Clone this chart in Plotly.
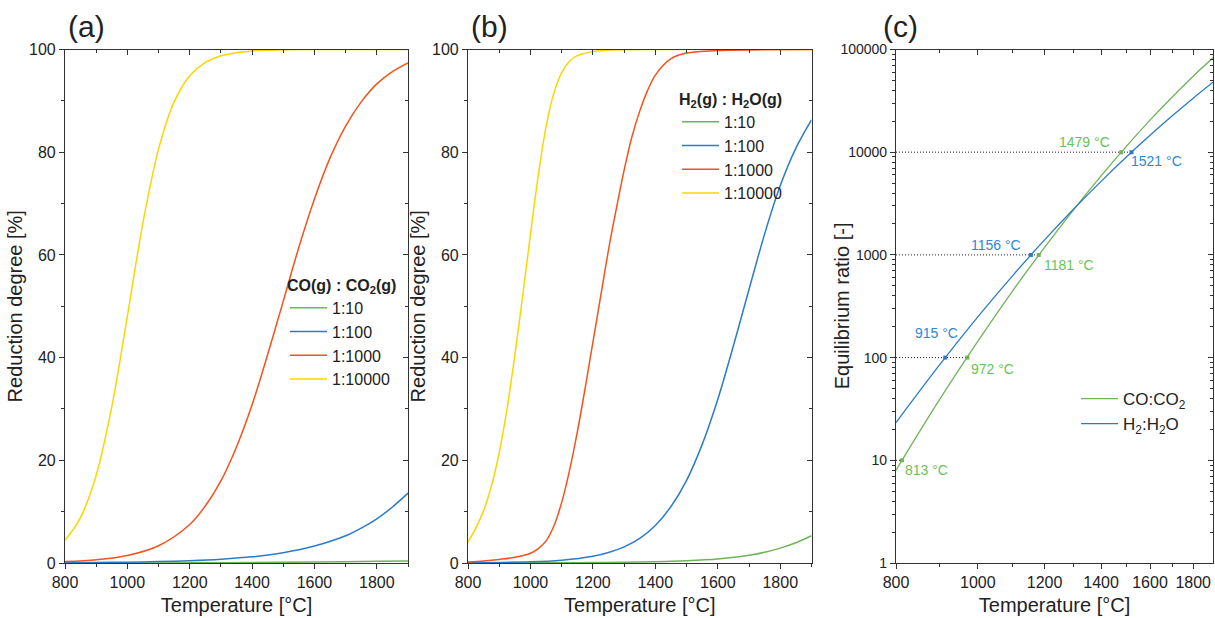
import numpy as np
import plotly.graph_objects as go

# ---------------- data ----------------
# Panel (a): CO(g) : CO2(g) -- reduction degree [%]
a_green_T = [800, 1000, 1200, 1400, 1600, 1700, 1800, 1900]
a_green = [0, 0.01, 0.04, 0.09, 0.18, 0.24, 0.32, 0.41]
a_blue_T = [800, 900, 1000, 1100, 1200, 1300, 1400, 1500, 1600, 1700, 1750, 1800, 1850, 1900]
a_blue = [0.06, 0.1, 0.17, 0.27, 0.45, 0.74, 1.2, 2.0, 3.3, 5.3, 6.8, 8.6, 10.9, 13.6]
a_orange_T = [800, 900, 1000, 1100, 1200, 1250, 1300, 1350, 1400, 1450, 1500, 1550,
              1600, 1650, 1700, 1750, 1800, 1850, 1900]
a_orange = [0.27, 0.63, 1.46, 3.36, 7.5, 11.1, 16, 22.6, 30.8, 40.6, 51, 61.5,
            70.9, 78.9, 85.1, 89.8, 93.3, 95.7, 97.4]
a_yellow_T = [800, 850, 900, 950, 1000, 1050, 1100, 1150, 1200, 1250, 1300, 1400, 1500, 1600, 1900]
a_yellow = [4.4, 8.9, 17.1, 30.4, 48.1, 66.3, 80.6, 89.8, 94.9, 97.5, 98.8, 99.73, 99.94, 99.99, 100]

# Panel (b): H2(g) : H2O(g) -- reduction degree [%]
b_green_T = [800, 900, 1000, 1100, 1200, 1300, 1400, 1500, 1600, 1700, 1750, 1800, 1850, 1900]
b_green = [0.008, 0.014, 0.025, 0.045, 0.08, 0.14, 0.25, 0.45, 0.8, 1.5, 2.1, 2.9, 3.95, 5.3]
b_blue_T = [800, 1000, 1100, 1200, 1250, 1300, 1350, 1400, 1450, 1500, 1550, 1600, 1650,
            1700, 1750, 1800, 1850, 1900]
b_blue = [0.04, 0.22, 0.54, 1.31, 2.04, 3.14, 4.8, 7.3, 11.0, 16.1, 23.1, 31.9, 42.3,
          53.3, 64.1, 73.5, 80.8, 86.3]
b_orange_T = [800, 850, 900, 950, 1000, 1025, 1050, 1075, 1100, 1125, 1150, 1175, 1200,
              1225, 1250, 1275, 1300, 1325, 1350, 1375, 1400, 1450, 1500, 1600, 1900]
b_orange = [0.2, 0.4, 0.7, 1.1, 1.9, 2.8, 4.3, 7.2, 11.8, 18, 25.5, 34, 43,
            52, 61, 69, 76.5, 83, 88, 92, 95, 98.2, 99.3, 99.8, 100]
b_yellow_T = [800, 825, 850, 875, 900, 925, 950, 975, 1000, 1025, 1050, 1075, 1100,
              1125, 1150, 1200, 1300, 1900]
b_yellow = [4.1, 6.8, 10.2, 15, 21.5, 30, 40.5, 52, 64, 75.5, 85, 91.5, 95.5,
            97.7, 98.8, 99.6, 99.95, 100]

ratio_labels = ["1:10", "1:100", "1:1000", "1:10000"]

# Panel (c): equilibrium ratio [-]
c_T = [800, 900, 1000, 1100, 1200, 1300, 1400, 1500, 1600, 1700, 1800, 1900]
c_co = [8.0, 38.5, 144, 447, 1184, 2776, 5873, 11400, 20500, 34500, 55000, 83000]
c_h2 = [23.3, 84, 249, 629, 1399, 2814, 5203, 8980, 14600, 22600, 33600, 48000]

# marked points (temperature where ratio reaches a decade)
co_pts_T = [813, 972, 1181, 1479]
co_pts_R = [10, 100, 1000, 10000]
h2_pts_T = [915, 1156, 1521]
h2_pts_R = [100, 1000, 10000]
# dotted guide lines: ratio level -> temperature reached
guide_R = [10, 100, 1000, 10000]
guide_T = [813, 972, 1181, 1521]

# ---------------- style ----------------
GREEN = "#6FB35A"
BLUE = "#2B7BC9"
ORANGE = "#F4531C"
YELLOW = "#FFD400"
GREEN_TXT = "#6CBF5A"
BLUE_TXT = "#2F86D6"
colors = [GREEN, BLUE, ORANGE, YELLOW]
FONT = "Liberation Sans, Arial, sans-serif"
AX = "#333333"
TXT = "#222222"

W, H = 1215, 618
def px_x(p):
    return p / W
def px_y(p):
    return 1 - p / H

y_dom = [px_y(563), px_y(49.5)]
x_doms = [[px_x(65), px_x(408)], [px_x(468), px_x(811.5)], [px_x(896), px_x(1213)]]

fig = go.Figure()

def add_curve(T, Y, color, name, xa, ya, legend):
    fig.add_trace(go.Scatter(x=T, y=Y, mode="lines", name=name,
                             line=dict(color=color, width=1.5, shape="spline", smoothing=0.9),
                             xaxis=xa, yaxis=ya, legend=legend, hoverinfo="x+y"))

# panel a
for T, Y, c, n in zip([a_green_T, a_blue_T, a_orange_T, a_yellow_T],
                      [a_green, a_blue, a_orange, a_yellow], colors, ratio_labels):
    add_curve(T, Y, c, n, "x", "y", "legend")
# panel b
for T, Y, c, n in zip([b_green_T, b_blue_T, b_orange_T, b_yellow_T],
                      [b_green, b_blue, b_orange, b_yellow], colors, ratio_labels):
    add_curve(T, Y, c, n, "x2", "y2", "legend2")

# panel c guide lines
for R, T in zip(guide_R, guide_T):
    fig.add_trace(go.Scatter(x=[800, T], y=[R, R], mode="lines",
                             line=dict(color="#222222", width=1, dash="1px,2px"),
                             xaxis="x3", yaxis="y3", showlegend=False, hoverinfo="skip"))
fig.add_trace(go.Scatter(x=c_T, y=c_co, mode="lines", name="CO:CO<sub>2</sub>",
                         line=dict(color=GREEN, width=1.3, shape="spline"),
                         xaxis="x3", yaxis="y3", legend="legend3"))
fig.add_trace(go.Scatter(x=c_T, y=c_h2, mode="lines", name="H<sub>2</sub>:H<sub>2</sub>O",
                         line=dict(color=BLUE, width=1.3, shape="spline"),
                         xaxis="x3", yaxis="y3", legend="legend3"))
fig.add_trace(go.Scatter(x=co_pts_T, y=co_pts_R, mode="markers",
                         marker=dict(color=GREEN, size=4, symbol="square"),
                         xaxis="x3", yaxis="y3", showlegend=False))
fig.add_trace(go.Scatter(x=h2_pts_T, y=h2_pts_R, mode="markers",
                         marker=dict(color=BLUE, size=4, symbol="square"),
                         xaxis="x3", yaxis="y3", showlegend=False))

# dummy traces for mirrored inward-tick axes
for xa, ya, xv, yv in [("x4", "y4", 1000, 50), ("x5", "y5", 1000, 50), ("x6", "y6", 1000, 10)]:
    fig.add_trace(go.Scatter(x=[xv], y=[yv], mode="markers", marker=dict(opacity=0),
                             xaxis=xa, yaxis=ya, showlegend=False, hoverinfo="skip"))

lin_xt = [800, 1000, 1200, 1400, 1600, 1800]
lin_xm = [900, 1100, 1300, 1500, 1700, 1900]
lin_yt = [0, 20, 40, 60, 80, 100]
lin_ym = [10, 30, 50, 70, 90]
log_xt = [800, 1000, 1200, 1400, 1600, 1800]
log_xm = [900, 1100, 1300, 1500, 1700]
log_yt = [1, 10, 100, 1000, 10000, 100000]
log_ym = [m * d for d in [1, 10, 100, 1000, 10000] for m in range(2, 10)]

def main_axis(dom, rng, tv, mv, title, fsize, standoff, typ="linear", anchor=None):
    d = dict(domain=dom, range=rng, type=typ, tickmode="array", tickvals=tv,
             ticktext=[str(v) for v in tv],
             showline=True, linecolor=AX, linewidth=1.2, mirror=True,
             ticks="outside", ticklen=5, tickwidth=1, tickcolor=AX,
             minor=dict(tickmode="array", tickvals=mv, ticks="outside", ticklen=3,
                        tickwidth=1, tickcolor=AX, showgrid=False),
             showgrid=False, zeroline=False, automargin=False,
             tickfont=dict(family=FONT, size=fsize, color=TXT))
    if title:
        d["title"] = dict(text=title, font=dict(family=FONT, size=20, color=TXT), standoff=standoff)
    if anchor:
        d["anchor"] = anchor
    return d

def over_axis(over, rng, tv, mv, side, typ="linear", anchor=None):
    return dict(overlaying=over, side=side, range=rng, type=typ, tickmode="array", tickvals=tv,
                showticklabels=False, ticks="inside", ticklen=5, tickwidth=1, tickcolor=AX,
                minor=dict(tickmode="array", tickvals=mv, ticks="inside", ticklen=3,
                           tickwidth=1, tickcolor=AX, showgrid=False),
                showline=False, showgrid=False, zeroline=False, automargin=False,
                anchor=anchor)

xr = [800, 1900]
yr = [0, 100]
lxr = [np.log10(800), np.log10(1900)]
lyr = [0, 5]

legend_common = dict(xanchor="left", yanchor="top", bgcolor="rgba(0,0,0,0)",
                     tracegroupgap=0, itemwidth=37)

layout = dict(
    width=W, height=H, margin=dict(l=0, r=0, t=0, b=0),
    paper_bgcolor="white", plot_bgcolor="white",
    font=dict(family=FONT, color=TXT),
    xaxis=main_axis(x_doms[0], xr, lin_xt, lin_xm, "Temperature [°C]", 16, 7, anchor="y"),
    yaxis=main_axis(y_dom, yr, lin_yt, lin_ym, "Reduction degree [%]", 16, 0, anchor="x"),
    xaxis2=main_axis(x_doms[1], xr, lin_xt, lin_xm, "Temperature [°C]", 16, 7, anchor="y2"),
    yaxis2=main_axis(y_dom, yr, lin_yt, lin_ym, "Reduction degree [%]", 16, 0, anchor="x2"),
    xaxis3=main_axis(x_doms[2], lxr, log_xt, log_xm, "Temperature [°C]", 16, 7, typ="log", anchor="y3"),
    yaxis3=main_axis(y_dom, lyr, log_yt, log_ym, None, 14, 0, typ="log", anchor="x3"),
    xaxis4=over_axis("x", xr, lin_xt, lin_xm, "top", anchor="y4"),
    yaxis4=over_axis("y", yr, lin_yt, lin_ym, "right", anchor="x4"),
    xaxis5=over_axis("x2", xr, lin_xt, lin_xm, "top", anchor="y5"),
    yaxis5=over_axis("y2", yr, lin_yt, lin_ym, "right", anchor="x5"),
    xaxis6=over_axis("x3", lxr, log_xt, log_xm, "top", typ="log", anchor="y6"),
    yaxis6=over_axis("y3", lyr, log_yt, log_ym, "right", typ="log", anchor="x6"),
    legend=dict(x=px_x(285), y=px_y(270), font=dict(family=FONT, size=16, color=TXT),
                title=dict(text="<b>CO(g) : CO<sub>2</sub>(g)</b>",
                           font=dict(family=FONT, size=16, color=TXT)),
                **legend_common),
    legend2=dict(x=px_x(677), y=px_y(84), font=dict(family=FONT, size=16, color=TXT),
                 title=dict(text="<b>H<sub>2</sub>(g) : H<sub>2</sub>O(g)</b>",
                            font=dict(family=FONT, size=16, color=TXT)),
                 **legend_common),
    legend3=dict(x=px_x(1076), y=px_y(381), font=dict(family=FONT, size=17, color=TXT),
                 **legend_common),
    showlegend=True,
)
fig.update_layout(**layout)

# y title of panel (c)
fig.add_annotation(text="Equilibrium ratio [-]", x=px_x(842), y=(y_dom[0] + y_dom[1]) / 2,
                   xref="paper", yref="paper", textangle=-90, showarrow=False,
                   xanchor="center", yanchor="middle",
                   font=dict(family=FONT, size=20, color=TXT))

# panel labels
for txt, xp in [("(a)", 66), ("(b)", 469), ("(c)", 881)]:
    fig.add_annotation(text=txt, x=px_x(xp), y=px_y(27), xref="paper", yref="paper",
                       xanchor="left", yanchor="middle", showarrow=False,
                       font=dict(family=FONT, size=30, color=TXT))

# point labels in panel (c)
lab_specs = [
    ("1479 °C", 1479, 10000, -37, 10, GREEN_TXT),
    ("1521 °C", 1521, 10000, 25, -9, BLUE_TXT),
    ("1156 °C", 1156, 1000, -35, 10, BLUE_TXT),
    ("1181 °C", 1181, 1000, 30, -10, GREEN_TXT),
    ("915 °C", 915, 100, -9, 25, BLUE_TXT),
    ("972 °C", 972, 100, 25, -11, GREEN_TXT),
    ("813 °C", 813, 10, 25, -10, GREEN_TXT),
]
for txt, T, R, dx, dy, col in lab_specs:
    fig.add_annotation(text=txt, x=np.log10(T), y=np.log10(R), xref="x3", yref="y3",
                       xanchor="center", yanchor="middle", xshift=dx, yshift=dy,
                       showarrow=False, font=dict(family=FONT, size=14, color=col))

fig.write_html("out.html")
